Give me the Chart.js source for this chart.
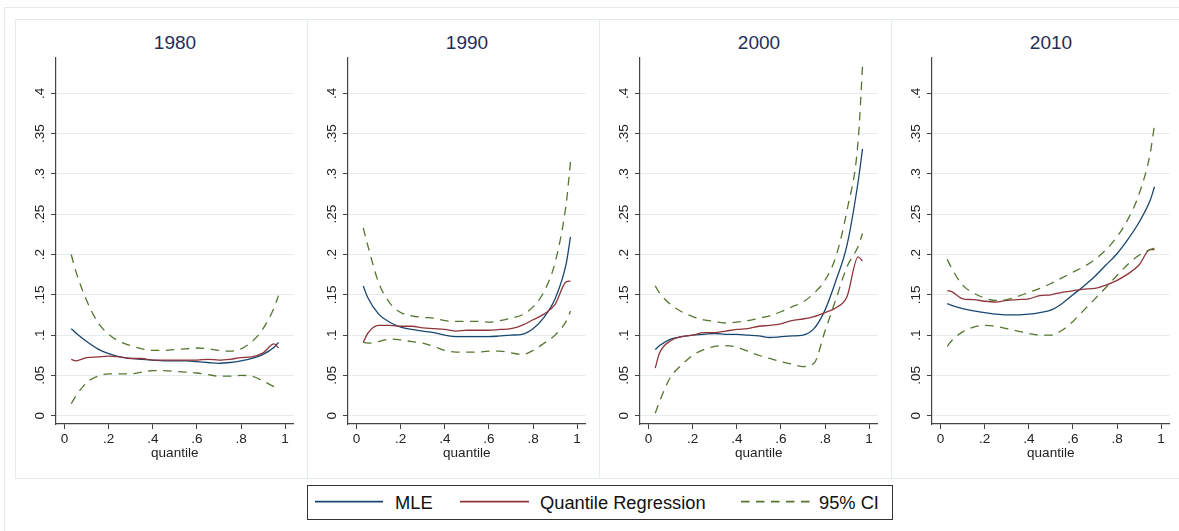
<!DOCTYPE html>
<html>
<head>
<meta charset="utf-8">
<script src="https://cdn.jsdelivr.net/npm/chart.js@4.4.0/dist/chart.umd.min.js"></script>
<style>
  body { margin: 0; width: 1179px; height: 531px; overflow: hidden; background: #fff; position: relative;
         font-family: "Liberation Sans", Arial, sans-serif; }
  .frame { position: absolute; border: 1px solid #e4eced; box-sizing: border-box; }
  .panel-title { position: absolute; top: 33px; width: 240px; line-height: 20px; font-size: 19px;
                 color: #1f2d5a; text-align: center; }
  canvas { position: absolute; }
  #legend { position: absolute; left: 307px; top: 485px; width: 586px; height: 35px;
            border: 1px solid #333; box-sizing: border-box; background: #fff; }
  #legend svg { position: absolute; left: 0; top: 0; }
  .leg-text { position: absolute; top: 0; line-height: 33px; font-size: 18.3px; color: #111; white-space: nowrap; }
</style>
</head>
<body>
<div class="frame" style="left:4px; top:7px; width:1200px; height:540px;"></div>
<div id="legend">
  <svg width="584" height="33">
    <line x1="7" y1="15.7" x2="75" y2="15.7" stroke="#1a476f" stroke-width="1.7"/>
    <line x1="152" y1="15.7" x2="221" y2="15.7" stroke="#90353b" stroke-width="1.7"/>
    <line x1="433" y1="15.7" x2="502" y2="15.7" stroke="#55752f" stroke-width="1.7" stroke-dasharray="8.5 6.5"/>
  </svg>
</div>
<script>
// Eixos e rótulos
const quantiles = [0.03, 0.05, 0.1, 0.15, 0.2, 0.25, 0.3, 0.35, 0.4, 0.45, 0.5,
                   0.55, 0.6, 0.65, 0.7, 0.75, 0.8, 0.85, 0.9, 0.95, 0.97];
const years = ["1980", "1990", "2000", "2010"];
const seriesNames = ["MLE", "Quantile Regression", "95% CI"];
const xTicks = [0, 0.2, 0.4, 0.6, 0.8, 1];
const xTickLabels = ["0", ".2", ".4", ".6", ".8", "1"];
const yTicks = [0, 0.05, 0.1, 0.15, 0.2, 0.25, 0.3, 0.35, 0.4];
const yTickLabels = ["0", ".05", ".1", ".15", ".2", ".25", ".3", ".35", ".4"];
const xTitle = "quantile";

// 1980
const mle1980    = [.108, .103, .092, .083, .077, .073, .071, .070, .069, .068, .068, .068, .067, .066, .065, .066, .068, .071, .076, .085, .091];
const qr1980     = [.070, .068, .072, .073, .074, .073, .071, .071, .069, .069, .069, .069, .069, .070, .069, .070, .072, .073, .078, .089, .084];
const ciLow1980  = [.015, .024, .041, .049, .052, .052, .052, .054, .056, .056, .055, .054, .053, .051, .049, .049, .050, .049, .043, .036, .033];
const ciHigh1980 = [.200, .180, .143, .116, .101, .092, .087, .083, .081, .081, .082, .083, .084, .083, .081, .080, .083, .092, .108, .134, .149];

// 1990
const mle1990    = [.161, .147, .126, .116, .110, .107, .105, .103, .100, .098, .098, .098, .098, .099, .100, .101, .108, .122, .145, .188, .222];
const qr1990     = [.091, .102, .112, .112, .111, .111, .109, .108, .107, .105, .106, .106, .106, .107, .108, .112, .119, .126, .138, .166, .167];
const ciLow1990  = [.091, .090, .092, .095, .094, .092, .090, .086, .081, .079, .079, .079, .080, .080, .078, .076, .081, .090, .100, .117, .130];
const ciHigh1990 = [.233, .212, .165, .140, .128, .124, .122, .121, .118, .117, .117, .117, .116, .118, .121, .125, .135, .154, .190, .262, .315];

// 2000
const mle2000    = [.082, .087, .095, .098, .100, .101, .102, .101, .101, .100, .099, .097, .098, .099, .100, .108, .131, .168, .212, .290, .331];
const qr2000     = [.059, .078, .093, .098, .100, .103, .103, .105, .107, .108, .111, .112, .114, .118, .120, .123, .128, .134, .148, .197, .192];
const ciLow2000  = [.003, .018, .048, .063, .075, .082, .086, .087, .085, .080, .075, .071, .067, .064, .061, .065, .105, .145, .185, .210, .226];
const ciHigh2000 = [.161, .152, .138, .129, .123, .119, .117, .115, .116, .118, .121, .124, .129, .135, .141, .152, .168, .198, .255, .340, .433];

// 2010
const mle2010    = [.139, .137, .133, .130, .128, .126, .125, .125, .126, .128, .131, .139, .150, .161, .173, .187, .201, .219, .240, .267, .284];
const qr2010     = [.155, .154, .145, .144, .142, .141, .143, .144, .145, .149, .150, .153, .155, .157, .158, .162, .168, .176, .187, .206, .206];
const ciLow2010  = [.086, .093, .104, .110, .112, .111, .108, .105, .102, .100, .100, .106, .117, .131, .145, .159, .174, .188, .199, .206, .208];
const ciHigh2010 = [.194, .183, .162, .152, .146, .143, .144, .148, .153, .158, .164, .171, .178, .185, .194, .206, .222, .244, .275, .325, .361];

const painel = [
    { mle: mle1980, qr: qr1980, low: ciLow1980, high: ciHigh1980 },
    { mle: mle1990, qr: qr1990, low: ciLow1990, high: ciHigh1990 },
    { mle: mle2000, qr: qr2000, low: ciLow2000, high: ciHigh2000 },
    { mle: mle2010, qr: qr2010, low: ciLow2010, high: ciHigh2010 }
];

const navy = "#1a476f";
const maroon = "#90353b";
const green = "#55752f";

// limites dos eixos (iguais nos quatro painéis)
const xMin = -0.039, xMax = 1.038;
const yMin = -0.0103, yMax = 0.4447;

const fonteTick = { family: "'Liberation Sans', Arial, sans-serif", size: 13.5 };

function pontos(valores) {
    return quantiles.map((q, i) => ({ x: q, y: valores[i] }));
}

function linha(label, valores, cor, tracejado) {
    return {
        label: label,
        data: pontos(valores),
        borderColor: cor,
        borderWidth: 1.3,
        borderDash: tracejado ? [8.5, 6.5] : [],
        pointRadius: 0,
        fill: false,
        cubicInterpolationMode: "monotone"
    };
}

function criarPainel(i) {
    const esquerda = Math.floor(15.5 + 292 * i);

    const moldura = document.createElement("div");
    moldura.className = "frame";
    moldura.style.cssText = `left:${esquerda}px; top:19px; width:293px; height:460px;`;
    document.body.appendChild(moldura);

    const titulo = document.createElement("div");
    titulo.className = "panel-title";
    titulo.style.left = (esquerda + 160 - 120) + "px";
    titulo.textContent = years[i];
    document.body.appendChild(titulo);

    const canvas = document.createElement("canvas");
    canvas.width = 292;
    canvas.height = 459;
    canvas.style.left = esquerda + "px";
    canvas.style.top = "19px";
    document.body.appendChild(canvas);

    const d = painel[i];
    new Chart(canvas.getContext("2d"), {
        type: "line",
        data: {
            datasets: [
                linha(seriesNames[2], d.high, green, true),
                linha(seriesNames[2], d.low, green, true),
                linha(seriesNames[1], d.qr, maroon, false),
                linha(seriesNames[0], d.mle, navy, false)
            ]
        },
        options: {
            responsive: false,
            animation: false,
            devicePixelRatio: 1,
            layout: { padding: { top: 38.3, right: 13.5, bottom: 14, left: 0 } },
            plugins: { legend: { display: false }, tooltip: { enabled: false } },
            scales: {
                x: {
                    type: "linear",
                    min: xMin,
                    max: xMax,
                    afterBuildTicks: s => { s.ticks = xTicks.map(v => ({ value: v })); },
                    afterFit: s => { s.height = 40; },
                    grid: { drawOnChartArea: false, tickLength: 5, tickColor: "#444", lineWidth: 1 },
                    border: { color: "#444", width: 1.2 },
                    ticks: {
                        callback: (v, idx) => xTickLabels[idx],
                        padding: 2,
                        maxRotation: 0,
                        autoSkip: false,
                        color: "#222",
                        font: fonteTick
                    },
                    title: {
                        display: true,
                        text: xTitle,
                        color: "#222",
                        font: fonteTick,
                        padding: { top: 0, bottom: 2.6 }
                    }
                },
                y: {
                    type: "linear",
                    min: yMin,
                    max: yMax,
                    afterBuildTicks: s => { s.ticks = yTicks.map(v => ({ value: v })); },
                    afterFit: s => { s.width = 41; },
                    grid: { color: "#e4eced", tickColor: "#444", tickLength: 5, lineWidth: 1 },
                    border: { color: "#444", width: 1.2 },
                    ticks: {
                        callback: (v, idx) => yTickLabels[idx],
                        minRotation: 90,
                        maxRotation: 90,
                        crossAlign: "center",
                        padding: 1.3,
                        autoSkip: false,
                        color: "#222",
                        font: fonteTick
                    }
                }
            }
        }
    });
}

// Legenda (texto real)
function criarLegenda() {
    const leg = document.getElementById("legend");
    const posicoes = [87, 232, 511];
    seriesNames.forEach((nome, i) => {
        const span = document.createElement("span");
        span.className = "leg-text";
        span.style.left = posicoes[i] + "px";
        span.textContent = nome;
        leg.appendChild(span);
    });
}

document.addEventListener("DOMContentLoaded", () => {
    for (let i = 0; i < years.length; i++) criarPainel(i);
    criarLegenda();
});
</script>
</body>
</html>
